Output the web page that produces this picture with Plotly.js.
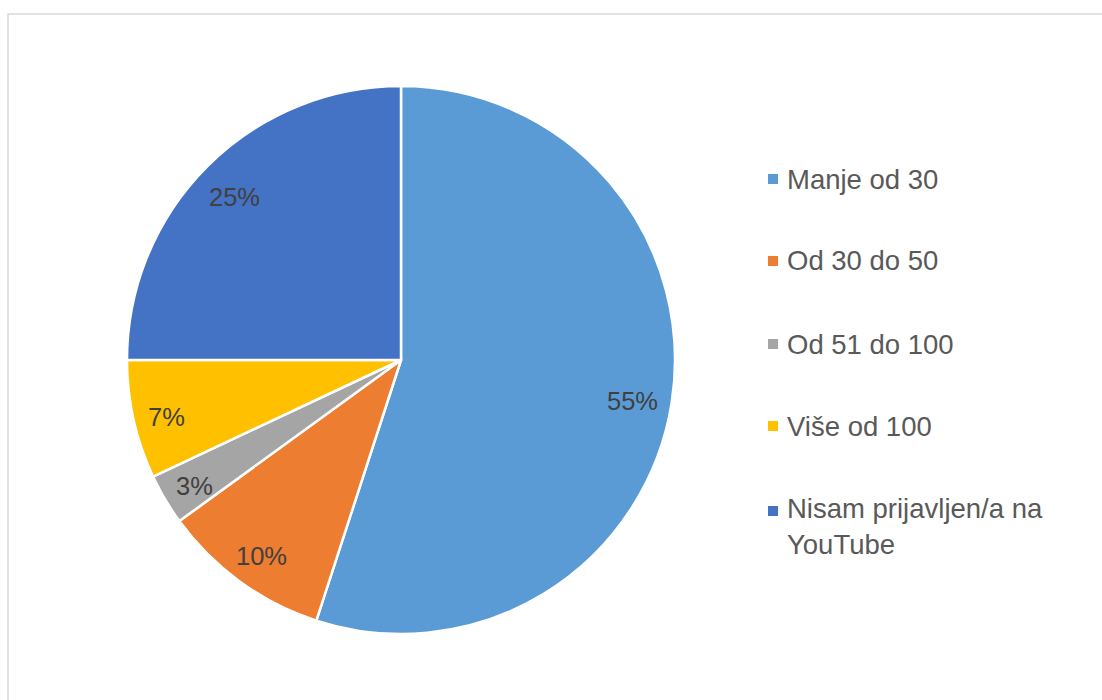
<!DOCTYPE html>
<html>
<head>
<meta charset="utf-8">
<script src="https://cdn.plot.ly/plotly-3.0.1.min.js"></script>
<style>html,body{margin:0;padding:0;background:#fff;}#chart{width:1102px;height:700px;}</style>
</head>
<body>
<div id="chart"></div>
<script>
const categories = ["Manje od 30", "Od 30 do 50", "Od 51 do 100", "Više od 100", "Nisam prijavljen/a na YouTube"];
const legendLabels = ["Manje od 30", "Od 30 do 50", "Od 51 do 100", "Više od 100", "Nisam prijavljen/a na<br>YouTube"];
const values = [55, 10, 3, 7, 25];
const colors = ["#5B9BD5", "#ED7D31", "#A5A5A5", "#FFC000", "#4472C4"];

const W = 1102, H = 700;
const px = x => x / W;
const py = y => 1 - y / H;

// pie geometry (pixels)
const CX = 401, CY = 360, R = 274;
const LABEL_SIZE = 25.5;

const trace = {
  type: "pie",
  labels: categories,
  values: values,
  sort: false,
  direction: "clockwise",
  rotation: 0,
  marker: { colors: colors, line: { color: "#ffffff", width: 2.5 } },
  textinfo: "none",
  textposition: "none",
  domain: { x: [px(CX - R), px(CX + R)], y: [py(CY + R), py(CY - R)] },
  showlegend: false,
  hoverinfo: "label+percent"
};

// "best fit" style label placement: along the slice mid-angle, pushed out
// until the outer corner of the label box reaches a fixed inset from the rim.
const total = values.reduce((a, b) => a + b, 0);
const annotations = [];
let cum = 0;
values.forEach((v, i) => {
  const mid = (cum + v / 2) / total * 2 * Math.PI;
  cum += v;
  const txt = Math.round(v / total * 100) + "%";
  const hw = ((txt.length - 1) * 0.556 + 0.889) * LABEL_SIZE / 2;
  const hh = 10;
  const s = Math.sin(mid), c = -Math.cos(mid);
  const target = R - 13;
  let lo = 0, hi = R;
  for (let k = 0; k < 40; k++) {
    const d = (lo + hi) / 2;
    const cx = d * s + Math.sign(s) * hw, cy = d * c + Math.sign(c) * hh;
    if (Math.hypot(cx, cy) > target) hi = d; else lo = d;
  }
  const d = lo;
  annotations.push({
    xref: "paper", yref: "paper",
    x: px(CX + d * s), y: py(CY + d * c + 4),
    xanchor: "center", yanchor: "middle", showarrow: false,
    text: txt,
    font: { family: "Liberation Sans, Arial, sans-serif", size: LABEL_SIZE, color: "#404040" }
  });
});

const legendY = [180, 262, 345, 427, 527];
const shapes = [{
  type: "rect", xref: "paper", yref: "paper",
  x0: px(8), x1: px(1110), y0: py(710), y1: py(14),
  line: { color: "#D9D9D9", width: 1.5 }, fillcolor: "rgba(0,0,0,0)"
}];
categories.forEach((c, i) => {
  const cy = i === 4 ? 511 : legendY[i] - 1;
  shapes.push({
    type: "rect", xref: "paper", yref: "paper",
    x0: px(768), x1: px(778), y0: py(cy + 5), y1: py(cy - 5),
    fillcolor: colors[i], line: { width: 0 }
  });
  annotations.push({
    xref: "paper", yref: "paper",
    x: px(785), y: py(i === 4 ? 526 : legendY[i] - 1),
    xanchor: "left", yanchor: "middle", align: "left",
    showarrow: false,
    text: legendLabels[i],
    font: { family: "Liberation Sans, Arial, sans-serif", size: 27.5, color: "#595959" }
  });
});

const layout = {
  width: W, height: H,
  margin: { l: 0, r: 0, t: 0, b: 0 },
  paper_bgcolor: "#ffffff",
  plot_bgcolor: "#ffffff",
  showlegend: false,
  shapes: shapes,
  annotations: annotations
};

Plotly.newPlot("chart", [trace], layout, { displayModeBar: false, staticPlot: true });
</script>
</body>
</html>
